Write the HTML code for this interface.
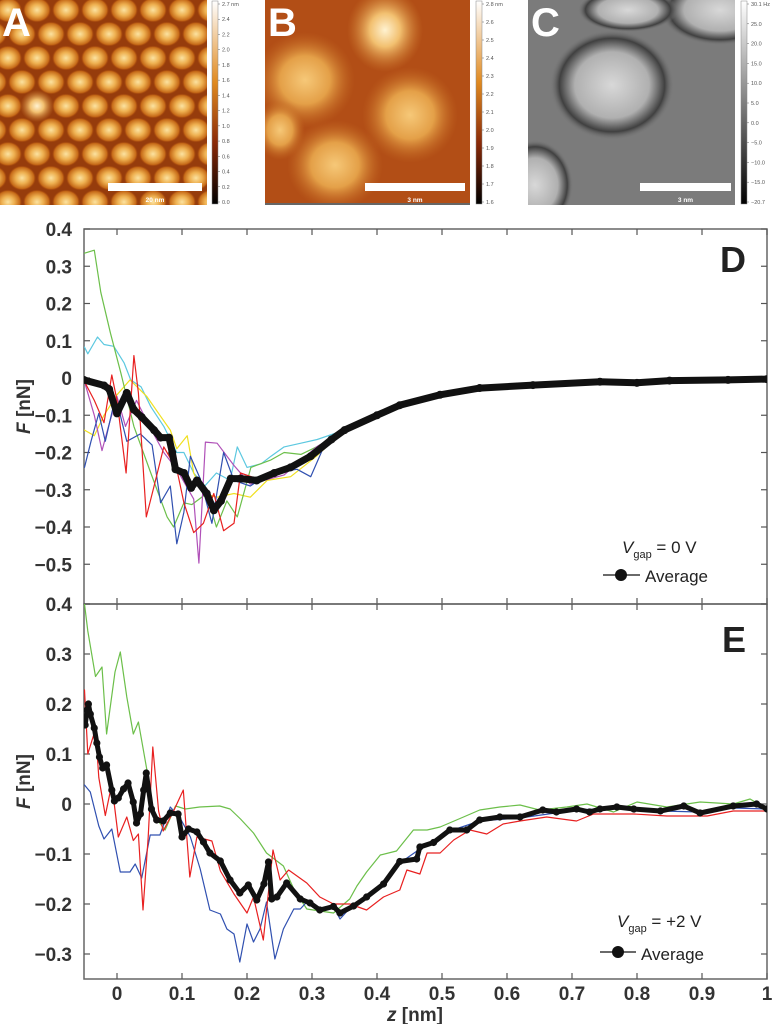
<!DOCTYPE html>
<html><head><meta charset="utf-8"><style>
html,body{margin:0;padding:0;background:#fff;}
body{width:783px;height:1024px;overflow:hidden;font-family:"Liberation Sans",sans-serif;}
svg text{font-family:"Liberation Sans",sans-serif;}
</style></head><body>
<svg id="fig" width="783" height="1024" viewBox="0 0 783 1024" xmlns="http://www.w3.org/2000/svg">
<defs>
<radialGradient id="gA" cx="50%" cy="50%" r="50%"><stop offset="0" stop-color="#fbe2a0"/><stop offset="0.45" stop-color="#eeb050"/><stop offset="0.85" stop-color="#c66a18"/><stop offset="1" stop-color="#a8480c" stop-opacity="0"/></radialGradient>
<radialGradient id="gB" cx="50%" cy="50%" r="50%"><stop offset="0" stop-color="#f6c878"/><stop offset="0.5" stop-color="#e4a048"/><stop offset="1" stop-color="#c46a22" stop-opacity="0"/></radialGradient>
<radialGradient id="gB2" cx="50%" cy="50%" r="50%"><stop offset="0" stop-color="#fff2d0"/><stop offset="0.4" stop-color="#f2c070"/><stop offset="1" stop-color="#d08030" stop-opacity="0"/></radialGradient>
<radialGradient id="gC" cx="50%" cy="50%" r="50%"><stop offset="0" stop-color="#d8d8d8"/><stop offset="0.6" stop-color="#b0b0b0"/><stop offset="0.85" stop-color="#404040"/><stop offset="1" stop-color="#7a7a7a" stop-opacity="0"/></radialGradient>
<linearGradient id="cbA" x1="0" y1="1" x2="0" y2="0"><stop offset="0" stop-color="#000"/><stop offset="0.3" stop-color="#8a2a08"/><stop offset="0.6" stop-color="#e08a20"/><stop offset="1" stop-color="#fff"/></linearGradient>
<linearGradient id="cbC" x1="0" y1="1" x2="0" y2="0"><stop offset="0" stop-color="#000"/><stop offset="1" stop-color="#fff"/></linearGradient>
<clipPath id="clipA"><rect x="0" y="0" width="207" height="205"/></clipPath>
<clipPath id="clipB"><rect x="265" y="0" width="205" height="205"/></clipPath>
<clipPath id="clipC"><rect x="528" y="0" width="207" height="205"/></clipPath>
<clipPath id="clipD"><rect x="84" y="229" width="683" height="375"/></clipPath>
<clipPath id="clipE"><rect x="84" y="604" width="683" height="375"/></clipPath>
</defs>
<g id="images"></g>
<g id="plots"></g>
</svg>
<script>
// ---------- Panel D data (z in nm, F in nN) ----------
const dAvgZ=[-0.051,-0.02,-0.012,0,0.015,0.026,0.038,0.057,0.067,0.08,0.085,0.09,0.103,0.114,0.123,0.138,0.149,0.16,0.175,0.19,0.215,0.242,0.267,0.298,0.33,0.35,0.4,0.435,0.497,0.558,0.64,0.743,0.8,0.85,0.94,1.0];
const dAvgF=[-0.005,-0.02,-0.03,-0.095,-0.04,-0.085,-0.105,-0.14,-0.16,-0.16,-0.2,-0.245,-0.255,-0.295,-0.275,-0.31,-0.355,-0.33,-0.27,-0.27,-0.275,-0.255,-0.24,-0.21,-0.165,-0.14,-0.1,-0.073,-0.045,-0.027,-0.019,-0.01,-0.013,-0.007,-0.005,-0.003];
const dTailZ=[0.35,0.4,0.435,0.497,0.558,0.64,0.7,0.743,0.8,0.85,0.9,0.94,1.0];
const dTailF=[-0.14,-0.1,-0.07,-0.043,-0.025,-0.017,-0.012,-0.008,-0.011,-0.005,-0.008,-0.004,-0.003];
const dGreenZ=[-0.05,-0.035,-0.025,-0.01,0.006,0.026,0.052,0.077,0.087,0.103,0.115,0.138,0.153,0.169,0.185,0.206,0.237,0.257,0.283,0.307];
const dGreenF=[0.335,0.343,0.23,0.12,0.013,-0.13,-0.255,-0.373,-0.4,-0.335,-0.34,-0.31,-0.4,-0.33,-0.373,-0.24,-0.22,-0.2,-0.205,-0.185];
const dCyanZ=[-0.05,-0.045,-0.03,-0.02,-0.005,0.011,0.021,0.037,0.052,0.072,0.092,0.103,0.118,0.135,0.153,0.174,0.185,0.2,0.222,0.237,0.257,0.283,0.308];
const dCyanF=[0.083,0.065,0.11,0.09,0.085,0.04,-0.005,-0.024,-0.077,-0.13,-0.2,-0.2,-0.255,-0.29,-0.255,-0.275,-0.185,-0.24,-0.23,-0.21,-0.185,-0.175,-0.165];
const dRedZ=[-0.05,-0.035,-0.02,-0.008,0,0.014,0.026,0.033,0.045,0.057,0.072,0.092,0.103,0.118,0.133,0.149,0.164,0.18,0.19,0.215,0.257,0.307];
const dRedF=[-0.01,-0.06,-0.12,0.008,-0.06,-0.255,0.06,-0.04,-0.373,-0.29,-0.185,-0.245,-0.335,-0.415,-0.39,-0.31,-0.41,-0.39,-0.255,-0.27,-0.245,-0.2];
const dBlueZ=[-0.05,-0.04,-0.028,-0.018,-0.005,0.005,0.015,0.036,0.054,0.067,0.082,0.092,0.103,0.113,0.128,0.146,0.164,0.18,0.205,0.236,0.277,0.298,0.318];
const dBlueF=[-0.24,-0.17,-0.095,-0.17,-0.07,-0.1,-0.17,-0.15,-0.18,-0.335,-0.29,-0.445,-0.36,-0.21,-0.27,-0.39,-0.2,-0.275,-0.29,-0.255,-0.245,-0.265,-0.185];
const dMagZ=[-0.05,-0.035,-0.023,-0.013,0,0.013,0.03,0.05,0.072,0.092,0.118,0.126,0.136,0.154,0.18,0.205,0.257,0.307];
const dMagF=[-0.01,-0.1,-0.195,-0.13,-0.05,-0.13,-0.06,-0.13,-0.2,-0.245,-0.325,-0.497,-0.172,-0.175,-0.235,-0.285,-0.26,-0.185];
const dYelZ=[-0.05,-0.035,-0.02,0,0.02,0.046,0.066,0.082,0.092,0.108,0.118,0.133,0.154,0.18,0.205,0.231,0.267,0.307];
const dYelF=[-0.14,-0.155,-0.1,-0.045,-0.005,-0.05,-0.1,-0.14,-0.19,-0.155,-0.255,-0.31,-0.32,-0.31,-0.32,-0.275,-0.265,-0.21];
// ---------- Panel E data ----------
const eAvgZ=[-0.049,-0.046,-0.044,-0.041,-0.035,-0.031,-0.027,-0.022,-0.016,-0.008,-0.004,0.002,0.01,0.017,0.025,0.03,0.036,0.041,0.045,0.053,0.061,0.071,0.082,0.094,0.1,0.11,0.123,0.133,0.143,0.159,0.174,0.189,0.202,0.215,0.226,0.233,0.238,0.246,0.261,0.282,0.297,0.312,0.333,0.343,0.364,0.384,0.41,0.435,0.461,0.466,0.487,0.512,0.538,0.558,0.589,0.62,0.655,0.676,0.707,0.727,0.743,0.769,0.795,0.836,0.872,0.897,0.948,0.984,1.0];
const eAvgF=[0.158,0.188,0.2,0.18,0.152,0.122,0.094,0.072,0.078,0.028,0.006,0.012,0.03,0.042,0.004,-0.038,-0.02,0.028,0.062,-0.01,-0.032,-0.034,-0.018,-0.02,-0.066,-0.05,-0.056,-0.076,-0.098,-0.114,-0.152,-0.178,-0.162,-0.192,-0.16,-0.116,-0.19,-0.186,-0.158,-0.19,-0.198,-0.212,-0.205,-0.218,-0.204,-0.186,-0.16,-0.115,-0.11,-0.086,-0.077,-0.052,-0.052,-0.032,-0.026,-0.026,-0.012,-0.016,-0.01,-0.016,-0.01,-0.006,-0.01,-0.014,-0.004,-0.018,-0.004,0,-0.01];
const eGreenZ=[-0.05,-0.045,-0.033,-0.023,-0.016,-0.003,0.005,0.015,0.025,0.033,0.046,0.055,0.074,0.09,0.105,0.127,0.158,0.174,0.19,0.21,0.23,0.256,0.272,0.292,0.333,0.358,0.369,0.384,0.405,0.43,0.456,0.477,0.497,0.533,0.558,0.589,0.62,0.65,0.692,0.723,0.764,0.8,0.846,0.897,0.948,0.974,1.0];
const eGreenF=[0.4,0.346,0.255,0.274,0.14,0.264,0.304,0.214,0.14,0.164,0.068,-0.02,-0.052,-0.004,-0.01,-0.006,-0.004,-0.01,-0.03,-0.058,-0.098,-0.124,-0.17,-0.21,-0.218,-0.19,-0.164,-0.136,-0.102,-0.094,-0.052,-0.052,-0.046,-0.026,-0.012,-0.006,-0.002,-0.012,-0.006,0,-0.016,0.004,-0.006,0.004,0,0.01,-0.01];
const eRedZ=[-0.05,-0.045,-0.033,-0.028,-0.018,-0.008,0.002,0.015,0.025,0.033,0.04,0.048,0.055,0.064,0.071,0.087,0.102,0.112,0.123,0.146,0.159,0.18,0.2,0.21,0.225,0.24,0.251,0.264,0.292,0.312,0.333,0.358,0.384,0.41,0.435,0.446,0.466,0.477,0.497,0.518,0.543,0.569,0.594,0.62,0.661,0.707,0.733,0.795,0.846,0.908,0.948,1.0];
const eRedF=[0.228,0.1,0.15,0.053,-0.023,0.04,-0.066,-0.026,-0.073,-0.06,-0.212,-0.066,0.114,-0.014,-0.054,-0.014,0.028,-0.146,-0.066,-0.074,-0.134,-0.18,-0.218,-0.186,-0.272,-0.092,-0.152,-0.132,-0.158,-0.186,-0.2,-0.2,-0.212,-0.186,-0.172,-0.132,-0.14,-0.098,-0.098,-0.072,-0.052,-0.06,-0.04,-0.034,-0.026,-0.034,-0.02,-0.02,-0.024,-0.024,-0.014,-0.014];
const eBlueZ=[-0.05,-0.041,-0.028,-0.02,-0.008,0.005,0.02,0.028,0.038,0.051,0.066,0.082,0.097,0.113,0.128,0.143,0.159,0.169,0.18,0.189,0.2,0.21,0.22,0.23,0.243,0.256,0.272,0.282,0.292,0.312,0.333,0.343,0.364,0.384,0.41,0.435,0.466,0.512,0.558,0.62,0.707,0.769,0.836,0.897,0.948,1.0];
const eBlueF=[0.038,0.024,-0.044,-0.07,-0.05,-0.136,-0.136,-0.12,-0.148,-0.062,-0.062,-0.006,-0.028,-0.066,-0.13,-0.212,-0.22,-0.25,-0.26,-0.316,-0.24,-0.276,-0.25,-0.196,-0.31,-0.25,-0.21,-0.21,-0.196,-0.212,-0.205,-0.23,-0.2,-0.186,-0.162,-0.118,-0.09,-0.054,-0.034,-0.028,-0.012,-0.008,-0.014,-0.016,-0.008,-0.01];
const xTicks=[0,0.1,0.2,0.3,0.4,0.5,0.6,0.7,0.8,0.9,1];
const xTickLabels=["0","0.1","0.2","0.3","0.4","0.5","0.6","0.7","0.8","0.9","1"];
const dYTicks=[0.4,0.3,0.2,0.1,0,-0.1,-0.2,-0.3,-0.4,-0.5];
const dYTickLabels=["0.4","0.3","0.2","0.1","0","\u22120.1","\u22120.2","\u22120.3","\u22120.4","\u22120.5"];
const eYTicks=[0.4,0.3,0.2,0.1,0,-0.1,-0.2,-0.3];
const eYTickLabels=["0.4","0.3","0.2","0.1","0","\u22120.1","\u22120.2","\u22120.3"];

const NS="http://www.w3.org/2000/svg";
function mk(tag,attrs,parent){const e=document.createElementNS(NS,tag);for(const k in attrs)e.setAttribute(k,attrs[k]);parent.appendChild(e);return e;}
const X=z=>117+650*z;
const YD=f=>378-372.5*f;
const YE=f=>804-500*f;

// ---------- top images ----------
const img=document.getElementById('images');
// A
const gA=mk('g',{'clip-path':'url(#clipA)'},img);


mk('rect',{x:0,y:0,width:207,height:205,fill:'#963c0c'},gA);
for(let r=-1;r<10;r++){for(let c=-1;c<9;c++){
  const cx=c*29+(r%2?14:0)+8, cy=r*24+10;
  const big=(r===4&&c===1);
  const el=mk('ellipse',{cx:cx,cy:cy,rx:big?17:14,ry:big?16:12.5,fill:big?'url(#gB2)':'url(#gA)'},gA);
  
  
}}
// B
const gB=mk('g',{'clip-path':'url(#clipB)'},img);


mk('rect',{x:265,y:0,width:205,height:205,fill:'#b24e16'},gB);
[[305,80,50,48,'url(#gB)'],[410,115,48,48,'url(#gB)'],[335,165,48,45,'url(#gB)'],[385,30,38,42,'url(#gB2)'],[280,130,25,30,'url(#gB)']].forEach(b=>{
  mk('ellipse',{cx:b[0],cy:b[1],rx:b[2],ry:b[3],fill:b[4]},gB);
});
mk('rect',{x:265,y:203,width:205,height:2,fill:'#666'},gB);
// C
const gC=mk('g',{'clip-path':'url(#clipC)'},img);


mk('rect',{x:528,y:0,width:207,height:205,fill:'#7b7b7b'},gC);
mk('ellipse',{cx:612,cy:85,rx:62,ry:55,fill:'url(#gC)'},gC);
mk('ellipse',{cx:720,cy:10,rx:60,ry:35,fill:'url(#gC)'},gC);
mk('ellipse',{cx:535,cy:185,rx:38,ry:45,fill:'url(#gC)'},gC);
mk('ellipse',{cx:628,cy:10,rx:50,ry:22,fill:'url(#gC)'},gC);
// colorbars
function colorbar(x,grad,labels,unit,name){
  const g=mk('g',{},img);
  
  
  mk('rect',{x:x,y:1,width:6,height:203,fill:grad,stroke:'#888','stroke-width':0.5},g);
  labels.forEach((t,i)=>{
    const y=4+i*(198/(labels.length-1));
    mk('line',{x1:x+6,x2:x+8,y1:y,y2:y,stroke:'#666','stroke-width':0.5},g);
    const tx=mk('text',{x:x+10,y:y+2,'font-size':5.5,fill:'#555'},g);
    tx.textContent=(i===0?t+' '+unit:t);
  });
}
colorbar(212,'url(#cbA)',['2.7','2.4','2.2','2.0','1.8','1.6','1.4','1.2','1.0','0.8','0.6','0.4','0.2','0.0'],'nm','colorbar-a');
colorbar(476,'url(#cbA)',['2.8','2.6','2.5','2.4','2.3','2.2','2.1','2.0','1.9','1.8','1.7','1.6'],'nm','colorbar-b');
colorbar(741,'url(#cbC)',['30.1','25.0','20.0','15.0','10.0','5.0','0.0','\u22125.0','\u221210.0','\u221215.0','\u221220.7'],'Hz','colorbar-c');
// scale bars & letters
[[108,202,'20 nm','a'],[365,465,'3 nm','b'],[640,731,'3 nm','c']].forEach(s=>{
  const r=mk('rect',{x:s[0],y:183,width:s[1]-s[0],height:8,fill:'#fff'},img);
  
  
  const t=mk('text',{x:(s[0]+s[1])/2,y:202,'font-size':6.5,'font-weight':'bold',fill:'#fff','text-anchor':'middle'},img);
  
  
  t.textContent=s[2];
});
[[2,'A'],[268,'B'],[531,'C']].forEach(p=>{
  const t=mk('text',{x:p[0],y:36,'font-size':40,'font-weight':'bold',fill:'#fff'},img);
  
  
  t.textContent=p[1];
});

// ---------- plots ----------
const plots=document.getElementById('plots');
function poly(zs,fs,Y,color,w,parent,name){
  const pts=zs.map((z,i)=>X(z).toFixed(1)+','+Y(fs[i]).toFixed(1)).join(' ');
  const p=mk('polyline',{points:pts,fill:'none',stroke:color,'stroke-width':w,'stroke-linejoin':'round','stroke-linecap':'round'},parent);
  
  
  return p;
}
function avg(zs,fs,Y,parent,name,lw,r){
  const g=mk('g',{},parent);
  
  
  poly(zs,fs,Y,'#111',lw,g,name+'-line');
  zs.forEach((z,i)=>{
    const c=mk('circle',{cx:X(z),cy:Y(fs[i]),r:r,fill:'#111'},g);
    
    
  });
}
function frame(top,bot,Y,yt,ytl,panel,showX){
  const g=mk('g',{},plots);
  
  
  mk('rect',{x:84,y:top,width:683,height:bot-top,fill:'none',stroke:'#666','stroke-width':1.5},g);
  xTicks.forEach((z,i)=>{
    mk('line',{x1:X(z),x2:X(z),y1:top,y2:top+6,stroke:'#555','stroke-width':1.2},g);
    mk('line',{x1:X(z),x2:X(z),y1:bot,y2:bot-6,stroke:'#555','stroke-width':1.2},g);
    if(showX){
      const t=mk('text',{x:X(z),y:1000,'font-size':19,'font-weight':'bold',fill:'#333','text-anchor':'middle'},g);
      
      
      t.textContent=xTickLabels[i];
    }
  });
  yt.forEach((f,i)=>{
    const y=Y(f);
    mk('line',{x1:84,x2:90,y1:y,y2:y,stroke:'#555','stroke-width':1.2},g);
    mk('line',{x1:767,x2:761,y1:y,y2:y,stroke:'#555','stroke-width':1.2},g);
    const t=mk('text',{x:72,y:y+7,'font-size':19,'font-weight':'bold',fill:'#333','text-anchor':'end'},g);
    
    
    t.textContent=ytl[i];
  });
  const yl=mk('text',{x:0,y:0,'font-size':19,'font-weight':'bold',fill:'#333','text-anchor':'middle',transform:'translate(30,'+((top+bot)/2-10)+') rotate(-90)'},g);
  
  
  yl.innerHTML='<tspan font-style="italic">F</tspan> [nN]';
}
// D
frame(229,604,YD,dYTicks,dYTickLabels,'d',false);
const gD=mk('g',{'clip-path':'url(#clipD)'},plots);


poly(dCyanZ.concat(dTailZ),dCyanF.concat(dTailF),YD,'#5cc8e0',1.2,gD,'curve-cyan');
poly(dYelZ.concat(dTailZ),dYelF.concat(dTailF),YD,'#f0e020',1.2,gD,'curve-yellow');
poly(dGreenZ.concat(dTailZ),dGreenF.concat(dTailF),YD,'#6cbf4a',1.2,gD,'curve-green');
poly(dMagZ.concat(dTailZ),dMagF.concat(dTailF),YD,'#b050b8',1.2,gD,'curve-magenta');
poly(dBlueZ.concat(dTailZ),dBlueF.concat(dTailF),YD,'#3050b0',1.2,gD,'curve-blue');
poly(dRedZ.concat(dTailZ),dRedF.concat(dTailF),YD,'#e82020',1.2,gD,'curve-red');
avg(dAvgZ,dAvgF,YD,gD,'average-d',7,4);
// E
frame(604,979,YE,eYTicks,eYTickLabels,'e',true);
const gE=mk('g',{'clip-path':'url(#clipE)'},plots);


poly(eGreenZ,eGreenF,YE,'#6cbf4a',1.2,gE,'curve-green-e');
poly(eBlueZ,eBlueF,YE,'#3050b0',1.2,gE,'curve-blue-e');
poly(eRedZ,eRedF,YE,'#e82020',1.2,gE,'curve-red-e');
avg(eAvgZ,eAvgF,YE,gE,'average-e',5,3.6);
// labels, legends
function txt(x,y,s,html,name,anchor){
  const t=mk('text',{x:x,y:y,'font-size':s,fill:'#222','text-anchor':anchor||'start'},plots);
  
  
  t.innerHTML=html;return t;
}
const pd=txt(720,272,36,'D','panel-label-d');pd.setAttribute('font-weight','bold');
const pe=txt(722,652,36,'E','panel-label-e');pe.setAttribute('font-weight','bold');
txt(622,553,17,'<tspan font-style="italic">V</tspan><tspan font-size="11" dy="5">gap</tspan><tspan dy="-5"> = 0 V</tspan>','legend-vgap-d');
txt(645,582,17,'Average','legend-average-d');
mk('line',{x1:603,x2:640,y1:575,y2:575,stroke:'#111','stroke-width':1.2},plots);
mk('circle',{cx:621,cy:575,r:6,fill:'#111'},plots);
txt(617,927,17,'<tspan font-style="italic">V</tspan><tspan font-size="11" dy="5">gap</tspan><tspan dy="-5"> = +2 V</tspan>','legend-vgap-e');
txt(641,960,17,'Average','legend-average-e');
mk('line',{x1:600,x2:636,y1:952,y2:952,stroke:'#111','stroke-width':1.2},plots);
mk('circle',{cx:618,cy:952,r:6,fill:'#111'},plots);
const xl=txt(415,1021,19,'<tspan font-style="italic">z</tspan> [nm]','x-axis-title','middle');xl.setAttribute('font-weight','bold');xl.setAttribute('fill','#333');
</script>
</body></html>
